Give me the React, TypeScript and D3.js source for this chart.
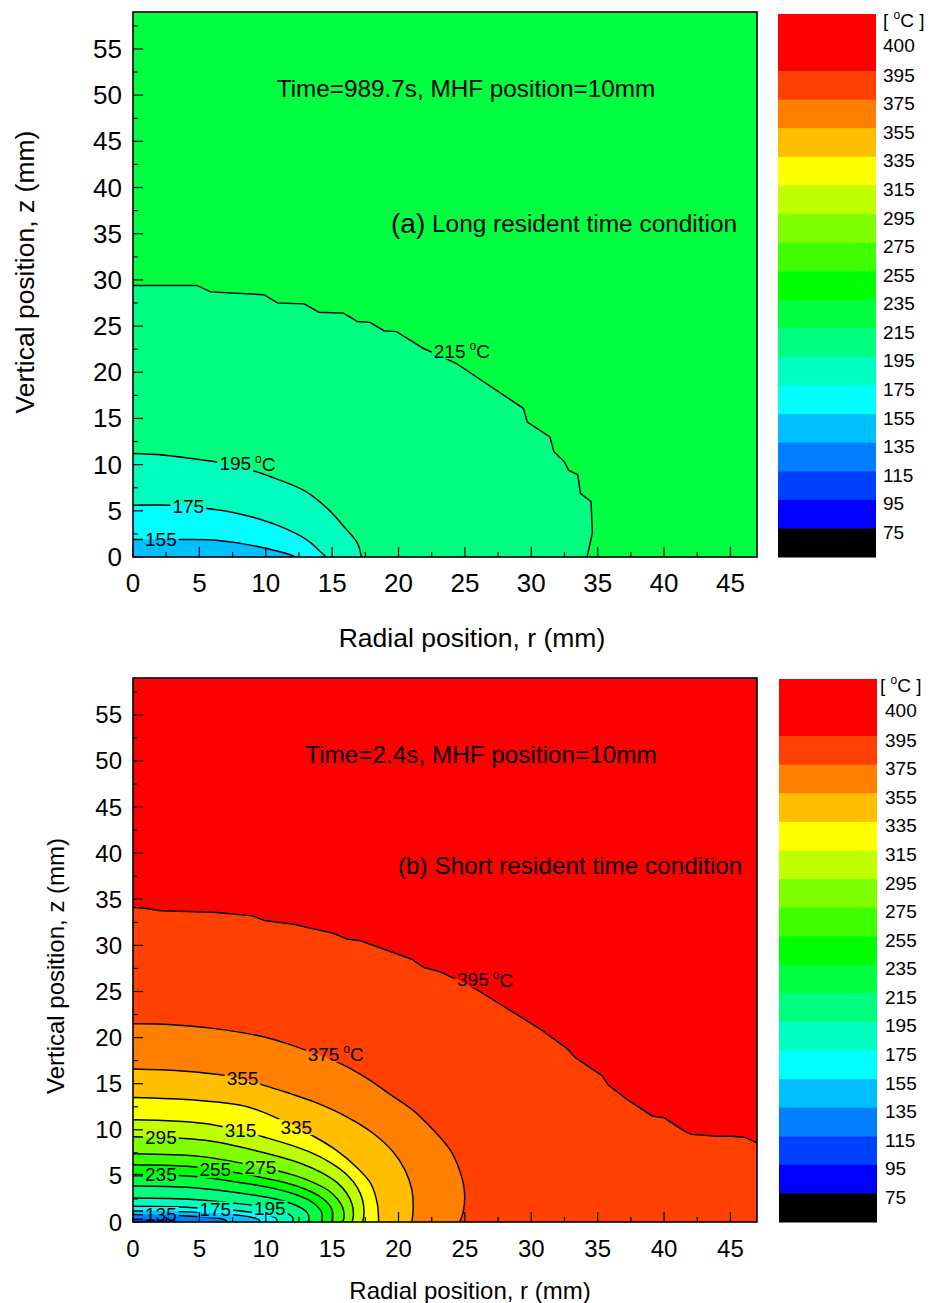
import React from 'react';
import * as d3 from 'd3';

// ---------- legend ----------
const legendLabels = [400, 395, 375, 355, 335, 315, 295, 275, 255, 235, 215, 195, 175, 155, 135, 115, 95, 75];
const legendColors = ['#FF0000', '#FF4000', '#FF8000', '#FFBF00', '#FFFF00', '#BFFF00', '#80FF00', '#40FF00', '#00FF00', '#00FF40', '#00FF80', '#00FFBF', '#00FFFF', '#00BFFF', '#0080FF', '#0040FF', '#0000FF', '#000000'];

// ---------- axes ----------
const xTickValues = [0, 5, 10, 15, 20, 25, 30, 35, 40, 45];
const yTickValues = [0, 5, 10, 15, 20, 25, 30, 35, 40, 45, 50, 55];
const xMinorValues = [2.5, 7.5, 12.5, 17.5, 22.5, 27.5, 32.5, 37.5, 42.5];
const yMinorValues = [2.5, 7.5, 12.5, 17.5, 22.5, 27.5, 32.5, 37.5, 42.5, 47.5, 52.5, 57.5];
const rDomain = [0, 47];
const zDomain = [0, 59];

type P = [number, number];

// ---------- panel (a) isotherms: [r, z] in mm ----------
const a215: P[] = [[0, 29.4], [4.8, 29.4], [5.85, 28.7], [9.85, 28.4], [10.9, 27.5], [12.9, 27.4], [14.0, 26.5], [15.85, 26.4], [16.9, 25.5], [17.85, 25.4], [18.9, 24.5], [19.85, 24.4], [21.85, 22.6], [24.3, 21.0], [29.4, 16.1], [29.7, 14.6], [31.4, 13.0], [31.7, 11.4], [32.5, 10.3], [32.8, 9.4], [33.5, 8.9], [33.7, 6.9], [34.5, 6.0], [34.6, 2.6], [34.2, 0]];
const a195: P[] = [[0, 11.2], [2.25, 11.05], [4.25, 10.7], [6.4, 10.25], [8.9, 9.4], [11, 8.35], [13, 7.1], [14.75, 5.1], [16, 3.1], [16.9, 1.5], [17.2, 0]];
const a175: P[] = [[0, 5.6], [2.9, 5.6], [5.25, 5.3], [7.25, 4.9], [9.75, 4.0], [11.75, 2.9], [13.25, 1.7], [14.1, 0.6], [14.55, 0]];
const a155: P[] = [[0, 1.9], [3.25, 1.9], [6, 1.85], [8, 1.5], [10, 0.95], [11.5, 0.4], [12.25, 0]];

// ---------- panel (b) isotherms ----------
const b395: P[] = [[0, 34.1], [1.0, 34.0], [2.1, 33.75], [6.1, 33.6], [9.0, 33.2], [9.9, 32.7], [12.1, 32.3], [15.0, 31.35], [16.1, 30.7], [17.15, 30.5], [21.0, 28.5], [21.9, 27.6], [23.0, 27.2], [24.4, 26.3], [25.9, 25.2], [27.9, 23.4], [30.7, 20.9], [32.7, 18.8], [33.3, 17.85], [35.3, 15.9], [35.8, 14.85], [37.2, 13.3], [39.1, 11.5], [40.0, 11.3], [41.6, 9.8], [42.1, 9.5], [44.0, 9.3], [45.1, 9.3], [46.0, 9.2], [47.0, 8.6]];
const b375: P[] = [[0, 21.5], [2.3, 21.45], [6, 21.0], [9.8, 20.1], [11.5, 19.4], [13.1, 18.6], [15.6, 17.2], [17.6, 15.6], [19.4, 13.8], [21.1, 12.1], [22.6, 10.0], [23.9, 7.8], [24.6, 5.6], [24.95, 3.5], [24.9, 1.3], [24.6, 0]];
const b355: P[] = [[0, 16.6], [3.5, 16.4], [6.9, 15.9], [9.8, 14.85], [11.8, 13.95], [13.6, 13.05], [16.1, 11.4], [18.1, 9.6], [19.6, 7.6], [20.5, 5.6], [21.0, 3.5], [21.1, 1.3], [21.0, 0]];
const b335: P[] = [[0, 13.5], [4.8, 13.2], [8.6, 12.5], [11.1, 11.1], [13.6, 9.3], [15.3, 7.8], [16.8, 6.0], [17.9, 4.2], [18.4, 2.0], [18.5, 0]];
const b315: P[] = [[0, 11.1], [5.7, 10.63], [10.15, 9.1], [13.25, 7.63], [14.9, 6.42], [16.15, 5.08], [16.9, 3.74], [17.3, 2.33], [17.4, 0.87], [17.3, 0]];
const b295: P[] = [[0, 9.25], [5.45, 8.86], [9.65, 7.59], [12.65, 6.35], [14.2, 5.35], [15.4, 4.24], [16.1, 3.12], [16.5, 1.94], [16.6, 0.72], [16.5, 0]];
const b275: P[] = [[0, 7.4], [5.2, 7.09], [9.25, 6.07], [12.1, 5.08], [13.6, 4.28], [14.75, 3.39], [15.4, 2.49], [15.8, 1.55], [15.9, 0.58], [15.8, 0]];
const b255: P[] = [[0, 6.2], [4.95, 5.94], [8.8, 5.08], [11.5, 4.26], [12.95, 3.58], [14.0, 2.84], [14.65, 2.09], [15.0, 1.3], [15.05, 0.48], [15.0, 0]];
const b235: P[] = [[0, 5.15], [4.7, 4.93], [8.3, 4.22], [10.9, 3.54], [12.25, 2.98], [13.25, 2.36], [13.85, 1.74], [14.2, 1.08], [14.25, 0.4], [14.2, 0]];
const b215: P[] = [[0, 3.9], [4.35, 3.74], [7.75, 3.2], [10.1, 2.68], [11.4, 2.25], [12.3, 1.79], [12.9, 1.31], [13.2, 0.82], [13.25, 0.3], [13.2, 0]];
const b195: P[] = [[0, 2.6], [3.95, 2.49], [7.05, 2.13], [9.2, 1.79], [10.35, 1.5], [11.2, 1.19], [11.7, 0.88], [12, 0.55], [12.05, 0.2], [12, 0]];
const b175: P[] = [[0, 1.7], [3.55, 1.63], [6.35, 1.39], [8.3, 1.17], [9.3, 0.98], [10.1, 0.78], [10.55, 0.57], [10.8, 0.36], [10.85, 0.13], [10.8, 0]];
const b155: P[] = [[0, 1.2], [3.15, 1.15], [5.55, 0.98], [7.3, 0.82], [8.2, 0.69], [8.85, 0.55], [9.25, 0.4], [9.5, 0.25], [9.55, 0.09], [9.5, 0]];
const b135: P[] = [[0, 0.8], [2.3, 0.77], [4.1, 0.66], [5.35, 0.55], [6.05, 0.46], [6.55, 0.37], [6.85, 0.27], [7.0, 0.17], [7.05, 0.06], [7.0, 0]];
const b115: P[] = [[0, 0.3], [1.2, 0.29], [2.1, 0.25], [2.7, 0.2], [3.1, 0.15], [3.4, 0.09], [3.5, 0]];

type Contour = { level: number; pts: P[]; smooth: boolean };
type Label = { level: number; r: number; z: number; unit: boolean };

const aContours: Contour[] = [
  { level: 215, pts: a215, smooth: false },
  { level: 195, pts: a195, smooth: true },
  { level: 175, pts: a175, smooth: true },
  { level: 155, pts: a155, smooth: true },
];
const aLabels: Label[] = [
  { level: 215, r: 23.85, z: 22.3, unit: true },
  { level: 195, r: 7.7, z: 10.1, unit: true },
  { level: 175, r: 4.16, z: 5.5, unit: false },
  { level: 155, r: 2.1, z: 1.85, unit: false },
];

const bContours: Contour[] = [
  { level: 395, pts: b395, smooth: false },
  { level: 375, pts: b375, smooth: true },
  { level: 355, pts: b355, smooth: true },
  { level: 335, pts: b335, smooth: true },
  { level: 315, pts: b315, smooth: true },
  { level: 295, pts: b295, smooth: true },
  { level: 275, pts: b275, smooth: true },
  { level: 255, pts: b255, smooth: true },
  { level: 235, pts: b235, smooth: true },
  { level: 215, pts: b215, smooth: true },
  { level: 195, pts: b195, smooth: true },
  { level: 175, pts: b175, smooth: true },
  { level: 155, pts: b155, smooth: true },
  { level: 135, pts: b135, smooth: true },
  { level: 115, pts: b115, smooth: true },
];
const bLabels: Label[] = [
  { level: 395, r: 25.6, z: 26.3, unit: true },
  { level: 375, r: 14.35, z: 18.2, unit: true },
  { level: 355, r: 8.25, z: 15.6, unit: false },
  { level: 335, r: 12.3, z: 10.3, unit: false },
  { level: 315, r: 8.1, z: 9.95, unit: false },
  { level: 295, r: 2.1, z: 9.2, unit: false },
  { level: 275, r: 9.6, z: 5.9, unit: false },
  { level: 255, r: 6.2, z: 5.64, unit: false },
  { level: 235, r: 2.1, z: 5.1, unit: false },
  { level: 195, r: 10.3, z: 1.45, unit: false },
  { level: 175, r: 6.2, z: 1.35, unit: false },
  { level: 135, r: 2.1, z: 0.76, unit: false },
];

const FONT = "'Liberation Sans', Arial, Helvetica, sans-serif";
const W = 931;
const H = 1303;
const LABEL_FS = 19;

const color = d3.scaleOrdinal<number, string>().domain(legendLabels).range(legendColors);

type PanelCfg = {
  id: string;
  plot: { left: number; right: number; top: number; bottom: number };
  legend: { x: number; w: number; top: number; bottom: number; labelX: number; unitX: number };
  contours: Contour[];
  labels: Label[];
  bgLevel: number;
  title: string;
  titleX: number;
  titleY: number;
  subParts: { text: string; fs: number }[];
  subX: number;
  subY: number;
  tickFs: number;
  axisFs: number;
  yLabelX: number;
  yLabelY: number;
  xLabelX: number;
  xLabelY: number;
};

function Panel({ cfg }: { cfg: PanelCfg }) {
  const { plot, legend } = cfg;
  const x = d3.scaleLinear().domain(rDomain).range([plot.left, plot.right]);
  const y = d3.scaleLinear().domain(zDomain).range([plot.bottom, plot.top]);

  const mkLine = (smooth: boolean) =>
    d3.line<P>().x((d) => x(d[0])).y((d) => y(d[1])).curve(smooth ? d3.curveCatmullRom.alpha(0.5) : d3.curveLinear);

  const fillPath = (c: Contour) => {
    const last = c.pts[c.pts.length - 1];
    return `${mkLine(c.smooth)(c.pts)}L${x(last[0])},${y(0)}L${x(0)},${y(0)}Z`;
  };

  const digitW = LABEL_FS * 0.556;
  const clipId = `clip-${cfg.id}`;
  const maskId = `mask-${cfg.id}`;

  const units = legendLabels.length + 1;
  const u = (legend.bottom - legend.top) / units;
  const bandTop = (i: number) => legend.top + (i === 0 ? 0 : (i + 1) * u);
  const bandH = (i: number) => (i === 0 ? 2 * u : u);

  return (
    <g>
      <defs>
        <clipPath id={clipId}>
          <rect x={plot.left} y={plot.top} width={plot.right - plot.left} height={plot.bottom - plot.top} />
        </clipPath>
        <mask id={maskId} maskUnits="userSpaceOnUse" x={0} y={0} width={W} height={H}>
          <rect x={0} y={0} width={W} height={H} fill="white" />
          {cfg.labels.map((l, i) => {
            const w = String(l.level).length * digitW;
            return <rect key={i} x={x(l.r) - w / 2 - 2} y={y(l.z) - 8} width={w + 4} height={16} fill="black" />;
          })}
        </mask>
      </defs>

      <g clipPath={`url(#${clipId})`}>
        <rect x={plot.left} y={plot.top} width={plot.right - plot.left} height={plot.bottom - plot.top} fill={color(cfg.bgLevel)} />
        {cfg.contours.map((c, i) => (
          <path key={`f${i}`} d={fillPath(c)} fill={color(c.level)} stroke={color(c.level)} strokeWidth={0.5} />
        ))}
        <g mask={`url(#${maskId})`}>
          {cfg.contours.map((c, i) => (
            <path key={`l${i}`} d={mkLine(c.smooth)(c.pts) || ''} fill="none" stroke="#000" strokeWidth={1.45} />
          ))}
        </g>
      </g>

      {cfg.labels.map((l, i) => {
        const w = String(l.level).length * digitW;
        return (
          <g key={`lab${i}`}>
            <text x={x(l.r)} y={y(l.z)} textAnchor="middle" dominantBaseline="central" fontSize={LABEL_FS} fill="#000">
              {l.level}
            </text>
            {l.unit && (
              <text x={x(l.r) + w / 2 + 4} y={y(l.z)} dominantBaseline="central" fontSize={LABEL_FS} fill="#000">
                <tspan fontSize={12} dy={-5}>o</tspan>
                <tspan dy={5}>C</tspan>
              </text>
            )}
          </g>
        );
      })}

      {xTickValues.map((v) => (
        <line key={`xt${v}`} x1={x(v)} x2={x(v)} y1={plot.bottom} y2={plot.bottom - 10} stroke="#000" strokeWidth={1.2} />
      ))}
      {xMinorValues.map((v) => (
        <line key={`xm${v}`} x1={x(v)} x2={x(v)} y1={plot.bottom} y2={plot.bottom - 5} stroke="#000" strokeWidth={1.2} />
      ))}
      {yTickValues.map((v) => (
        <line key={`yt${v}`} x1={plot.left} x2={plot.left + 10} y1={y(v)} y2={y(v)} stroke="#000" strokeWidth={1.2} />
      ))}
      {yMinorValues.map((v) => (
        <line key={`ym${v}`} x1={plot.left} x2={plot.left + 5} y1={y(v)} y2={y(v)} stroke="#000" strokeWidth={1.2} />
      ))}
      <rect x={plot.left} y={plot.top} width={plot.right - plot.left} height={plot.bottom - plot.top} fill="none" stroke="#000" strokeWidth={1.6} />

      {xTickValues.map((v) => (
        <text key={`xl${v}`} x={x(v)} y={plot.bottom + 26} textAnchor="middle" dominantBaseline="central" fontSize={cfg.tickFs}>
          {v}
        </text>
      ))}
      {yTickValues.map((v) => (
        <text key={`yl${v}`} x={plot.left - 11} y={y(v)} textAnchor="end" dominantBaseline="central" fontSize={cfg.tickFs}>
          {v}
        </text>
      ))}

      <text x={cfg.xLabelX} y={cfg.xLabelY} textAnchor="middle" dominantBaseline="central" fontSize={cfg.axisFs}>
        Radial position, r (mm)
      </text>
      <text
        transform={`translate(${cfg.yLabelX},${cfg.yLabelY}) rotate(-90)`}
        textAnchor="middle"
        dominantBaseline="central"
        fontSize={cfg.axisFs}
      >
        Vertical position, z (mm)
      </text>

      <text x={cfg.titleX} y={cfg.titleY} textAnchor="middle" dominantBaseline="central" fontSize={24.3}>
        {cfg.title}
      </text>
      <text x={cfg.subX} y={cfg.subY} dominantBaseline="central">
        {cfg.subParts.map((p, i) => (
          <tspan key={i} fontSize={p.fs}>{p.text}</tspan>
        ))}
      </text>

      {legendLabels.map((lv, i) => (
        <rect key={`lg${lv}`} x={legend.x} y={bandTop(i)} width={legend.w} height={bandH(i) + 0.5} fill={legendColors[i]} />
      ))}
      <text x={legend.unitX} y={legend.top + 6} dominantBaseline="central" fontSize={19}>
        [ <tspan fontSize={12} dy={-5}>o</tspan><tspan dy={5}>C ]</tspan>
      </text>
      {legendLabels.map((lv, i) => (
        <text
          key={`ll${lv}`}
          x={legend.labelX}
          y={i === 0 ? legend.top + 31 : bandTop(i) + 4}
          dominantBaseline="central"
          fontSize={19}
        >
          {lv}
        </text>
      ))}
    </g>
  );
}

const panelA: PanelCfg = {
  id: 'a',
  plot: { left: 133, right: 757, top: 12, bottom: 557 },
  legend: { x: 778, w: 98, top: 14, bottom: 557, labelX: 883, unitX: 883 },
  contours: aContours,
  labels: aLabels,
  bgLevel: 235,
  title: 'Time=989.7s, MHF position=10mm',
  titleX: 466,
  titleY: 88,
  subParts: [
    { text: '(a)', fs: 28 },
    { text: ' Long resident time condition', fs: 24.4 },
  ],
  subX: 391,
  subY: 223,
  tickFs: 26,
  axisFs: 26.5,
  yLabelX: 25,
  yLabelY: 272,
  xLabelX: 472,
  xLabelY: 638,
};

const panelB: PanelCfg = {
  id: 'b',
  plot: { left: 133, right: 757, top: 678, bottom: 1222 },
  legend: { x: 779, w: 98, top: 679, bottom: 1222, labelX: 885, unitX: 880 },
  contours: bContours,
  labels: bLabels,
  bgLevel: 400,
  title: 'Time=2.4s, MHF position=10mm',
  titleX: 481,
  titleY: 754,
  subParts: [{ text: '(b) Short resident time condition', fs: 24.3 }],
  subX: 398,
  subY: 865,
  tickFs: 24,
  axisFs: 24,
  yLabelX: 55,
  yLabelY: 966,
  xLabelX: 470,
  xLabelY: 1290,
};

export default function App() {
  return (
    <div style={{ position: 'absolute', left: 0, top: 0 }}>
      <svg width={W} height={H} viewBox={`0 0 ${W} ${H}`} style={{ fontFamily: FONT, display: 'block', background: '#fff' }}>
        <Panel cfg={panelA} />
        <Panel cfg={panelB} />
      </svg>
    </div>
  );
}
